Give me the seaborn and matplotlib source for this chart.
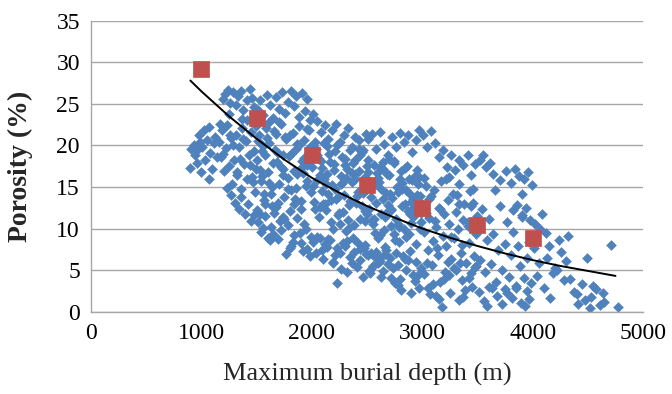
import numpy as np
import pandas as pd
import matplotlib
matplotlib.use('Agg')
import matplotlib.pyplot as plt
import seaborn as sns

# measured samples: maximum burial depth (m) vs porosity (%)
depth = [
    # shallow group
    895, 910, 930, 945, 960, 975, 990, 1005, 1020, 1035,
    1050, 1065, 1080, 1095, 1110, 1125, 1140, 1000, 960, 1070,
    # 1150-1500
    1195, 1215, 1240, 1260, 1285, 1310, 1330, 1355, 1380, 1410,
    1440, 1460, 1480, 1250, 1370,
    1160, 1175, 1190, 1205, 1220, 1235, 1250, 1265, 1280, 1295,
    1310, 1325, 1340, 1355, 1370, 1385, 1400, 1415, 1430, 1445,
    1460, 1475, 1490, 1170, 1230, 1290, 1350, 1410, 1470, 1200,
    1320, 1440, 1260, 1380, 1495,
    1270, 1300, 1340, 1395, 1420, 1450, 1475, 1500, 1360, 1485,
    # 1500-2000
    1510, 1535, 1560, 1590, 1620, 1650, 1680, 1705, 1730, 1760,
    1785, 1810, 1835, 1860, 1885, 1910, 1935, 1960, 1985, 1700,
    1505, 1520, 1540, 1555, 1570, 1585, 1600, 1615, 1630, 1645,
    1660, 1675, 1690, 1705, 1720, 1735, 1750, 1765, 1780, 1795,
    1810, 1825, 1840, 1855, 1870, 1885, 1900, 1915, 1930, 1945,
    1960, 1975, 1990, 1512, 1548, 1577, 1608, 1637, 1666, 1695,
    1724, 1753, 1782, 1811, 1840, 1869, 1898, 1927, 1956, 1985,
    1530, 1565, 1598, 1642, 1688, 1742, 1798, 1852, 1904, 1958,
    1550, 1612, 1674, 1736, 1798, 1860, 1922, 1984, 1580, 1880,
    1515, 1540, 1575, 1600, 1630, 1660, 1690, 1720, 1750, 1780,
    1810, 1840, 1870, 1900, 1930, 1960, 1990, 1530, 1620, 1710,
    1800, 1890, 1980, 1560, 1650, 1740, 1830, 1920, 1770, 1950,
    # 2000-2500
    2010, 2045, 2080, 2115, 2150, 2185, 2220, 2255, 2290, 2325,
    2360, 2395, 2430, 2465, 2495,
    2005, 2020, 2035, 2050, 2065, 2080, 2095, 2110, 2125, 2140,
    2155, 2170, 2185, 2200, 2215, 2230, 2245, 2260, 2275, 2290,
    2305, 2320, 2335, 2350, 2365, 2380, 2395, 2410, 2425, 2440,
    2455, 2470, 2485, 2500, 2012, 2043, 2076, 2108, 2139, 2172,
    2203, 2236, 2268, 2301, 2333, 2366, 2398, 2431, 2463, 2496,
    2025, 2070, 2118, 2162, 2208, 2252, 2298, 2342, 2388, 2432,
    2478, 2030, 2090, 2150, 2210, 2270, 2330, 2390, 2450, 2490,
    2060, 2130, 2190, 2240, 2310, 2370, 2420, 2480, 2100, 2280,
    2010, 2040, 2075, 2105, 2135, 2165, 2195, 2225, 2255, 2285,
    2315, 2345, 2375, 2405, 2435, 2465, 2495, 2050, 2120, 2190,
    2230, 2260, 2320, 2380, 2440, 2480, 2090, 2150, 2210, 2300,
    2360, 2420, 2470, 2520, 2555,
    # 2500-3000
    2510, 2545, 2580, 2620, 2655, 2690, 2725, 2760, 2800, 2835,
    2870, 2905, 2940, 2975, 2700,
    2505, 2520, 2535, 2550, 2565, 2580, 2595, 2610, 2625, 2640,
    2655, 2670, 2685, 2700, 2715, 2730, 2745, 2760, 2775, 2790,
    2805, 2820, 2835, 2850, 2865, 2880, 2895, 2910, 2925, 2940,
    2955, 2970, 2985, 3000, 2512, 2546, 2579, 2613, 2647, 2681,
    2714, 2748, 2782, 2815, 2849, 2883, 2916, 2950, 2984, 2528,
    2572, 2618, 2662, 2708, 2752, 2798, 2842, 2888, 2932, 2978,
    2540, 2600, 2660, 2720, 2780, 2840, 2900, 2960, 2560, 2640,
    2740, 2820, 2920, 2590, 2690, 2790, 2890, 2990, 2630, 2870,
    2510, 2530, 2555, 2585, 2615, 2645, 2675, 2705, 2735, 2765,
    2795, 2825, 2855, 2885, 2915, 2945, 2975, 2540, 2600, 2660,
    2720, 2780, 2810, 2840, 2900, 2960, 2990, 2570, 2630, 2690,
    2750, 2870, 2930, 2620, 2780,
    # 3000-3500
    3010, 3045, 3080, 3115, 3150, 3190, 3225, 3260, 3300, 3335,
    3370, 3410, 3445, 3480, 3240,
    3005, 3020, 3035, 3050, 3065, 3080, 3095, 3110, 3125, 3140,
    3155, 3170, 3185, 3200, 3215, 3230, 3245, 3260, 3275, 3290,
    3305, 3320, 3335, 3350, 3365, 3380, 3395, 3410, 3425, 3440,
    3455, 3470, 3485, 3500, 3012, 3062, 3112, 3162, 3212, 3262,
    3312, 3362, 3412, 3462, 3030, 3130, 3230, 3330, 3430, 3480,
    3015, 3050, 3085, 3120, 3160, 3180, 3210, 3250, 3290, 3330,
    3360, 3390, 3420, 3450, 3490, 3040, 3100, 3150, 3240, 3310,
    3370, 3440, 3070, 3200, 3340,
    # 3500-4000
    3520, 3550, 3580, 3610, 3640, 3700, 3760, 3800, 3840, 3880,
    3920, 3960, 3990, 3660, 3900,
    3505, 3525, 3545, 3565, 3585, 3605, 3625, 3645, 3665, 3685,
    3705, 3725, 3745, 3765, 3785, 3805, 3825, 3845, 3865, 3885,
    3905, 3925, 3945, 3965, 3985, 3820, 3860, 3900, 3940, 3980,
    3515, 3560, 3590, 3630, 3680, 3720, 3770, 3810, 3850, 3890,
    3930, 3970, 3600, 3750, 3950,
    # deeper than 4000
    4010, 4040, 4070, 4100, 4130, 4160, 4200, 4240, 4280, 4320,
    4370, 4410, 4450, 4490, 4530, 4570, 4610, 4650, 4710, 4775,
    4020, 4060, 4120, 4180, 4260, 4340, 4400, 4470, 4520, 4550,
    4080, 4150, 4220, 4300, 4640,
]
porosity = [
    17.3, 19.6, 20.1, 18.8, 19.4, 21.3, 20.4, 19.8, 21.9, 18.2,
    20.7, 22.2, 19.1, 17.2, 20.3, 21.0, 18.6, 16.8, 17.9, 15.9,
    25.6, 26.2, 26.7, 25.1, 26.4, 24.8, 25.9, 26.5, 24.3, 25.4,
    26.8, 25.7, 24.6, 23.8, 23.2,
    20.4, 18.6, 21.8, 16.9, 19.7, 22.4, 17.5, 20.9, 15.3, 18.2,
    21.3, 16.4, 19.8, 14.7, 22.1, 17.8, 20.5, 15.9, 18.9, 21.6,
    16.2, 19.3, 17.1, 22.6, 14.9, 20.1, 18.4, 23.0, 15.6, 19.0,
    16.8, 17.6, 21.2, 20.8, 22.3,
    14.0, 13.1, 12.4, 11.8, 12.9, 10.9, 11.6, 12.2, 13.8, 14.4,
    24.2, 25.5, 23.6, 26.1, 24.9, 23.3, 25.8, 24.4, 26.4, 23.9,
    25.2, 26.6, 24.7, 25.9, 23.4, 26.3, 24.1, 25.6, 23.1, 22.8,
    18.3, 21.2, 15.7, 19.9, 13.4, 22.1, 16.8, 20.3, 14.2, 17.9,
    21.7, 12.6, 19.1, 15.4, 22.6, 17.2, 13.8, 20.8, 16.1, 18.7,
    14.6, 21.5, 12.9, 19.6, 16.5, 22.3, 13.3, 18.1, 20.6, 15.1,
    17.6, 21.9, 14.4, 20.5, 16.3, 18.9, 22.8, 15.0, 19.4, 13.1,
    17.4, 21.0, 14.8, 19.0, 16.9, 20.2, 12.3, 18.5, 15.7, 19.8,
    17.0, 14.1, 20.9, 12.7, 18.0, 16.4, 21.3, 13.6, 17.3, 22.0,
    19.3, 15.5, 21.4, 18.8, 12.1, 14.9, 16.7, 18.2, 13.0, 20.0,
    10.8, 9.6, 11.5, 8.9, 10.2, 11.9, 8.7, 9.8, 11.1, 10.4,
    7.9, 9.2, 11.3, 8.2, 10.6, 7.5, 9.0, 11.7, 8.6, 10.9,
    7.6, 9.5, 6.7, 10.1, 9.3, 11.4, 8.4, 7.3, 6.9, 10.0,
    23.8, 22.9, 21.6, 22.4, 20.8, 21.9, 22.6, 20.4, 21.3, 22.1,
    19.8, 21.0, 20.6, 19.5, 21.4,
    17.4, 13.2, 19.6, 15.8, 11.4, 18.1, 14.5, 20.3, 12.2, 16.6,
    19.0, 10.8, 15.2, 17.8, 13.6, 20.1, 11.9, 16.3, 18.6, 14.0,
    9.7, 17.1, 12.8, 19.4, 15.6, 10.4, 18.3, 13.9, 16.9, 11.2,
    19.2, 14.7, 12.1, 17.5, 15.1, 18.8, 12.6, 16.0, 19.9, 13.4,
    17.0, 11.6, 15.4, 18.4, 10.1, 16.7, 13.1, 19.6, 14.3, 11.8,
    20.4, 16.4, 12.9, 18.0, 14.8, 10.6, 17.7, 13.3, 15.9, 18.9,
    16.2, 12.4, 17.3, 14.1, 19.3, 15.5, 11.0, 16.5, 12.7, 14.6,
    18.5, 15.3, 9.9, 13.8, 16.1, 17.9, 14.4, 10.9, 13.0, 12.0,
    8.4, 7.1, 8.9, 6.3, 7.8, 8.6, 5.8, 3.4, 7.0, 8.2,
    4.8, 6.6, 8.8, 5.4, 7.5, 4.2, 6.9, 9.0, 8.1, 6.0,
    7.7, 5.1, 8.5, 7.2, 6.2, 8.0, 7.4, 8.7, 6.8, 7.9,
    5.9, 8.3, 7.6, 4.9, 5.5,
    20.8, 21.4, 19.6, 21.6, 20.2, 18.9, 21.0, 19.8, 21.5, 20.4,
    21.2, 19.2, 20.7, 21.8, 18.4,
    16.8, 12.4, 14.9, 10.6, 17.7, 13.1, 8.9, 15.6, 11.8, 17.2,
    9.8, 14.3, 12.0, 16.4, 10.3, 13.7, 18.1, 11.2, 15.0, 8.4,
    16.9, 12.7, 10.0, 14.6, 17.5, 9.4, 13.2, 15.8, 11.5, 8.1,
    14.0, 16.2, 10.8, 12.9, 18.3, 11.0, 15.3, 9.2, 13.5, 16.6,
    12.2, 17.9, 10.5, 14.8, 9.0, 16.0, 12.5, 17.0, 13.9, 15.1,
    9.5, 17.4, 11.4, 14.1, 8.6, 15.9, 13.0, 11.7, 16.3, 9.9,
    13.8, 16.1, 7.8, 12.3, 14.4, 17.3, 10.7, 15.4, 11.1, 18.0,
    9.3, 15.5, 13.6, 16.7, 12.8, 10.2, 14.2, 11.9, 14.7, 12.1,
    6.8, 4.6, 5.5, 7.2, 6.1, 4.9, 7.4, 6.4, 5.2, 7.0,
    3.9, 6.7, 5.0, 7.3, 4.4, 6.0, 2.9, 7.1, 5.8, 6.9,
    4.1, 5.6, 2.6, 6.3, 2.3, 4.4, 5.3, 6.6, 4.2, 5.7,
    3.5, 6.2, 3.7, 6.5, 3.2,
    21.2, 19.8, 21.7, 20.3, 18.6, 19.5, 17.4, 18.8, 17.0, 18.3,
    17.6, 18.9, 16.4, 17.8, 16.2,
    12.8, 9.6, 15.1, 7.4, 11.3, 13.9, 8.5, 14.6, 10.2, 6.8,
    12.5, 15.7, 9.1, 11.8, 7.9, 13.4, 10.6, 6.3, 14.2, 8.8,
    12.0, 9.9, 15.4, 7.1, 11.0, 13.0, 5.9, 10.3, 8.2, 12.7,
    14.8, 6.7, 9.4, 11.5, 16.1, 13.6, 10.9, 12.3, 15.9, 9.0,
    14.0, 8.0, 10.8, 13.1, 11.9, 7.7, 6.0, 12.9, 14.5, 5.4,
    4.5, 2.8, 5.6, 1.9, 3.6, 0.6, 4.8, 2.3, 5.2, 1.4,
    3.8, 2.6, 4.1, 3.0, 5.5, 5.9, 3.3, 1.5, 4.4, 5.0,
    1.8, 4.6, 2.1, 3.9, 5.8,
    18.2, 18.8, 17.4, 17.9, 16.6, 15.8, 16.9, 15.5, 17.1, 16.3,
    15.9, 16.8, 15.2, 14.6, 14.2,
    10.4, 6.2, 12.3, 4.8, 8.6, 11.1, 5.7, 9.3, 3.6, 7.4,
    12.7, 5.0, 8.1, 10.8, 4.2, 6.8, 9.6, 3.1, 7.9, 5.5,
    11.6, 4.0, 6.5, 8.4, 3.4, 12.2, 12.8, 11.4, 12.5, 11.0,
    2.4, 1.3, 0.7, 2.8, 1.9, 0.9, 2.2, 1.6, 2.9, 1.1,
    0.7, 1.5, 3.0, 2.7, 2.5,
    7.6, 4.3, 9.9, 2.9, 6.4, 1.7, 5.3, 8.6, 3.8, 9.1,
    2.4, 0.9, 3.3, 6.5, 1.8, 2.7, 0.8, 1.2, 8.0, 0.6,
    10.6, 5.8, 9.5, 4.6, 7.2, 3.9, 2.1, 1.4, 0.4, 3.1,
    11.8, 7.9, 5.0, 6.1, 2.2,
]

# averages per 500 m depth step
avg_depth = [1000, 1500, 2000, 2500, 3000, 3500, 4000]
avg_porosity = [29.2, 23.3, 18.8, 15.2, 12.5, 10.4, 8.8]

# trend line
trend_depth = [900, 1000, 1250, 1500, 1750, 2000, 2250, 2500, 2750,
               3000, 3250, 3500, 3750, 4000, 4250, 4500, 4750]
trend_porosity = [27.8, 26.5, 23.5, 20.8, 18.3, 16.1, 14.3, 12.7, 11.3,
                  10.0, 8.9, 7.9, 7.0, 6.2, 5.5, 4.9, 4.3]

samples = pd.DataFrame({'depth': depth, 'porosity': porosity})
averages = pd.DataFrame({'depth': avg_depth, 'porosity': avg_porosity})
trend = pd.DataFrame({'depth': trend_depth, 'porosity': trend_porosity})

sns.set_style('white')
plt.rcParams['font.family'] = ['Liberation Serif', 'DejaVu Serif']

fig = plt.figure(figsize=(6.72, 3.94), dpi=100)
ax = fig.add_axes([0.1354, 0.209, 0.8216, 0.7385])

sns.scatterplot(data=samples, x='depth', y='porosity', marker='D', s=26,
                color='#4F81BD', edgecolor='#4F81BD', linewidth=0.3, ax=ax, zorder=2)
sns.lineplot(data=trend, x='depth', y='porosity', color='black', lw=1.4,
             ax=ax, zorder=3)
sns.scatterplot(data=averages, x='depth', y='porosity', marker='s', s=135,
                color='#C0504D', edgecolor='#C0504D', linewidth=0.5, ax=ax, zorder=4)

ax.set_xlim(0, 5000)
ax.set_ylim(0, 35)
ax.set_xticks(range(0, 5001, 1000))
ax.set_yticks(range(0, 36, 5))
ax.yaxis.grid(True, color='#A6A6A6', lw=1.0)
ax.set_axisbelow(True)
for side in ['top', 'right']:
    ax.spines[side].set_visible(False)
for side in ['left', 'bottom']:
    ax.spines[side].set_color('#A6A6A6')
    ax.spines[side].set_linewidth(1.0)
ax.tick_params(axis='both', direction='out', length=5, width=1.0,
               color='#A6A6A6', labelsize=17, labelcolor='black', pad=3)
ax.set_xlabel('Maximum burial depth (m)', fontsize=19, va='center')
ax.set_ylabel('Porosity (%)', fontsize=20, fontweight='bold', va='center')
ax.xaxis.set_label_coords(0.5, -0.215)
ax.yaxis.set_label_coords(-0.128, 0.5)

fig.savefig('out.png', dpi=100)
